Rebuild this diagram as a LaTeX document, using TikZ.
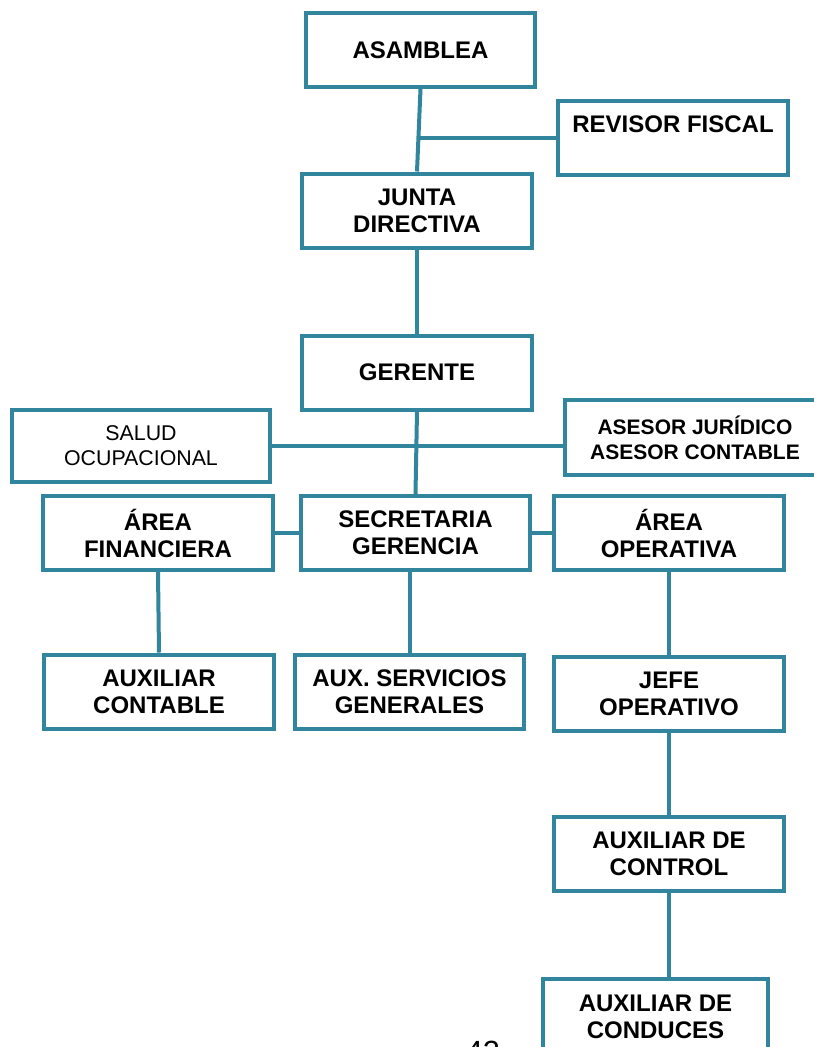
\documentclass[tikz,border=0pt]{standalone}
\usepackage{fontspec}
\setmainfont{Liberation Sans}
\usetikzlibrary{calc}
\definecolor{orgline}{RGB}{49,133,156}

\begin{document}
\begin{tikzpicture}[x=0.75pt,y=-0.75pt,draw=orgline]
    \tikzstyle{box}=[rectangle,draw=orgline,line width=3pt,fill=white,minimum width=172pt,minimum height=55.5pt,inner sep=2pt,align=center,font=\fontsize{18}{20.25}\selectfont\bfseries]
    \tikzstyle{small box}=[box,font=\fontsize{15.75}{18.75}\selectfont\bfseries]
    \tikzstyle{plain box}=[box,font=\fontsize{16}{18.75}\selectfont]
    \tikzstyle{link}=[line width=3pt,draw=orgline]

    \useasboundingbox (0,0) rectangle (814,1047);

    % top of the chart
    \node[box] (asamblea) at (420.5,50) {ASAMBLEA};
    \node[box] (revisor) at (673,137.5) {REVISOR FISCAL\\\mbox{}};
    \node[box] (junta) at (417,210.5) {JUNTA\\DIRECTIVA};
    \node[box] (gerente) at (417,372.5) {GERENTE};

    % staff and advisers
    \node[plain box,minimum width=193.5pt,minimum height=54pt] (salud) at (141,446) {SALUD\\OCUPACIONAL};
    \node[small box,minimum width=195pt,minimum height=56.25pt] (asesor) at (695,437.5) {ASESOR JURÍDICO\\ASESOR CONTABLE};

    % areas
    \node[box] (financiera) at (158,533) {ÁREA\\FINANCIERA};
    \node[box] (secretaria) at (415.5,533) {SECRETARIA\\GERENCIA};
    \node[box] (operativa) at (669,533) {ÁREA\\OPERATIVA};

    \node[box] (auxcontable) at (159,691.5) {AUXILIAR\\CONTABLE};
    \node[box] (auxservicios) at (409.5,691.5) {AUX. SERVICIOS\\GENERALES};
    \node[box] (jefe) at (669,693.5) {JEFE\\OPERATIVO};
    \node[box] (control) at (669,854) {AUXILIAR DE\\CONTROL};
    \node[box,minimum width=168.75pt,minimum height=56.25pt] (conduces) at (655.5,1016.5) {AUXILIAR DE\\CONDUCES};

    \node[font=\fontsize{23}{27}\selectfont,anchor=base] (pagina) at (483,1062) {42};

    % connectors
    \draw[link] (asamblea.south) -- (junta.north);
    \coordinate (cAJ) at ($(asamblea.south)!0.59!(junta.north)$);
    \draw[link] (revisor.west) -- (revisor.west -| cAJ);
    \draw[link] (junta.south) -- (gerente.north);
    \draw[link] (gerente.south) -- (secretaria.north);
    \draw[link] (salud.east) -- (salud.east -| asesor.west);
    \draw[link] (financiera.east) -- (secretaria.west);
    \draw[link] (secretaria.east) -- (operativa.west);
    \draw[link] (financiera.south) -- (auxcontable.north);
    \draw[link] (auxservicios.north) -- (auxservicios.north |- secretaria.south);
    \draw[link] (operativa.south) -- (jefe.north);
    \draw[link] (jefe.south) -- (control.north);
    \draw[link] (control.south) -- (control.south |- conduces.north);
\end{tikzpicture}
\end{document}
